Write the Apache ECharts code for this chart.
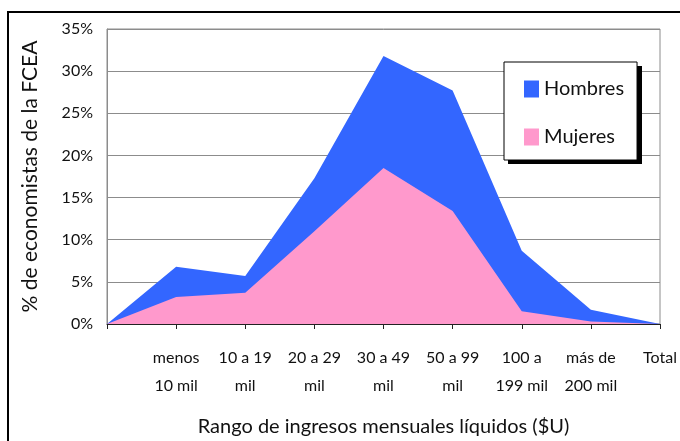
<!DOCTYPE html>
<html>
    <head>
        <title>Rango de ingresos</title>
        <meta charset="UTF-8">
        <script src="https://cdn.jsdelivr.net/npm/echarts@6/dist/echarts.min.js"></script>
    </head>
    <body style="margin:0;background-color:#fff;">
        <div id="main" style="width:680px;height:441px;"></div>
        <script>
            // categorias del eje x (el primer punto no tiene etiqueta)
            var categorias = ['', 'menos\n10 mil', '10 a 19\nmil', '20 a 29\nmil', '30 a 49\nmil', '50 a 99\nmil', '100 a\n199 mil', 'más de\n200 mil', 'Total'];
            var hombres = [0, 6.8, 5.7, 17.3, 31.8, 27.7, 8.7, 1.7, 0];
            var mujeres = [0, 3.2, 3.7, 11.0, 18.5, 13.4, 1.5, 0.3, 0];
            var ticksY = [0, 5, 10, 15, 20, 25, 30, 35];

            var gb = {
                color: {
                    hombres: '#3366ff',
                    mujeres: '#ff99cc',
                    grid: '#8c8c8c',
                    text: '#111'
                },
                font: 'Lato'
            };

            var myChart = echarts.init(document.getElementById('main'));

            var option = {
                animation: false,
                textStyle: {fontFamily: gb.font},
                graphic: [
                    {
                        type: 'rect',
                        shape: {x: 8, y: 12, width: 700, height: 460},
                        style: {fill: 'none', stroke: '#000', lineWidth: 2},
                        z: -1
                    },
                    {
                        // sombra de la leyenda
                        type: 'rect',
                        shape: {x: 508, y: 66, width: 134, height: 98},
                        style: {fill: '#000'},
                        z: 1
                    }
                ],
                grid: {
                    left: 107,
                    right: 20,
                    top: 29,
                    bottom: 117,
                    outerBoundsMode: 'none',
                    containLabel: false,
                    show: true,
                    borderColor: gb.color.grid,
                    borderWidth: 1
                },
                legend: {
                    orient: 'vertical',
                    left: 504,
                    top: 62,
                    z: 10,
                    data: ['Hombres', 'Mujeres'],
                    icon: 'rect',
                    itemWidth: 15,
                    itemHeight: 17,
                    itemGap: 28,
                    padding: [17, 13, 13, 20],
                    backgroundColor: '#fff',
                    borderColor: '#000',
                    borderWidth: 1,
                    textStyle: {fontSize: 20, color: gb.color.text, fontFamily: gb.font}
                },
                xAxis: {
                    type: 'category',
                    boundaryGap: false,
                    data: categorias,
                    name: 'Rango de ingresos mensuales líquidos ($U)',
                    nameLocation: 'middle',
                    nameGap: 93,
                    nameTextStyle: {fontSize: 20, color: gb.color.text},
                    axisLine: {lineStyle: {color: '#222', width: 1}},
                    axisTick: {show: true, length: 5, lineStyle: {color: '#222'}},
                    axisLabel: {
                        interval: 0,
                        margin: 20,
                        fontSize: 16,
                        lineHeight: 28,
                        color: gb.color.text
                    },
                    splitLine: {show: false}
                },
                yAxis: {
                    type: 'value',
                    min: ticksY[0],
                    max: ticksY[ticksY.length - 1],
                    interval: 5,
                    name: '% de economistas de la FCEA',
                    nameLocation: 'middle',
                    nameRotate: 90,
                    nameGap: 66,
                    nameTextStyle: {fontSize: 21, color: gb.color.text},
                    axisLine: {show: true, lineStyle: {color: gb.color.grid}},
                    axisTick: {show: false},
                    axisLabel: {
                        formatter: '{value}%',
                        fontSize: 16,
                        margin: 14,
                        color: gb.color.text
                    },
                    splitLine: {lineStyle: {color: gb.color.grid, width: 1}}
                },
                series: [
                    {
                        name: 'Hombres',
                        type: 'line',
                        data: hombres,
                        showSymbol: false,
                        lineStyle: {width: 0},
                        itemStyle: {color: gb.color.hombres},
                        areaStyle: {color: gb.color.hombres, opacity: 1},
                        z: 2
                    },
                    {
                        name: 'Mujeres',
                        type: 'line',
                        data: mujeres,
                        showSymbol: false,
                        lineStyle: {width: 0},
                        itemStyle: {color: gb.color.mujeres},
                        areaStyle: {color: gb.color.mujeres, opacity: 1},
                        z: 3
                    }
                ]
            };
            myChart.setOption(option);
        </script>
    </body>
</html>
